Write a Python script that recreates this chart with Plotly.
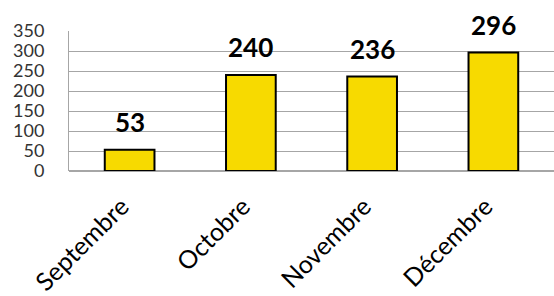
import plotly.graph_objects as go

months = ["Septembre", "Octobre", "Novembre", "Décembre"]
values = [53, 240, 236, 296]
y_ticks = [0, 50, 100, 150, 200, 250, 300, 350]

fig = go.Figure(go.Bar(
    x=months, y=values,
    marker=dict(color="#F7DA00", line=dict(color="black", width=2)),
    width=0.41,
))
for m, v in zip(months, values):
    fig.add_annotation(x=m, y=v, text=str(v), showarrow=False, yanchor="bottom",
                       yshift=10, font=dict(family="Lato", size=26, color="black", weight="bold"))
fig.update_layout(
    width=554, height=296,
    margin=dict(l=69, r=0, t=31, b=125, autoexpand=False),
    plot_bgcolor="white", paper_bgcolor="white",
    showlegend=False,
    xaxis=dict(tickangle=-45, tickfont=dict(family="Lato", size=25, color="black"),
               showline=False, ticks="", range=[-0.5, 3.5], automargin=False,
               ticklabelstandoff=15, ticklabelshift=-8),
    yaxis=dict(range=[0, 350], tickvals=y_ticks, showgrid=True, gridcolor="#A6A6A6",
               gridwidth=1, showline=True, linecolor="#A6A6A6", linewidth=1,
               tickfont=dict(family="Lato", size=18, color="#333333"),
               ticks="", ticklabelstandoff=20, automargin=False, zeroline=True,
               zerolinecolor="#A6A6A6"),
)
fig.write_html("out.html", config={"displayModeBar": False},
               post_script="document.body.style.margin='0';document.body.style.overflow='hidden';")
